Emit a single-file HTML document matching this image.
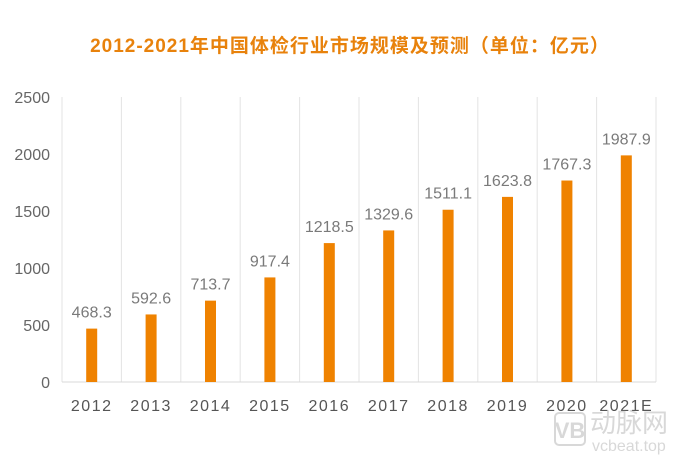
<!DOCTYPE html>
<html><head><meta charset="utf-8"><style>
body{margin:0;background:#fff;width:700px;height:459px;overflow:hidden;font-family:"Liberation Sans","Noto Sans CJK SC",sans-serif}
</style></head><body>
<svg width="700" height="459" xmlns="http://www.w3.org/2000/svg">
<text x="350" y="52" text-anchor="middle" font-size="19" font-weight="bold" fill="#E8820C" font-family="Liberation Sans, Noto Sans CJK SC, sans-serif" letter-spacing="1">2012-2021年中国体检行业市场规模及预测（单位：亿元）</text>
<g id="grid"></g><g id="bars"></g><g id="labels"></g>
<g opacity="0.45">
<rect x="555" y="413" width="30" height="32" rx="4" fill="none" stroke="#aaa" stroke-width="2"/>
<text x="570" y="438" font-size="22" font-weight="bold" fill="#aaa" text-anchor="middle" font-family="Liberation Sans, sans-serif">VB</text>
<text x="590" y="432" font-size="26" fill="#aaa" font-family="Noto Sans CJK SC, sans-serif">动脉网</text>
<text x="592" y="451" font-size="16" fill="#aaa" font-family="Liberation Sans, sans-serif">vcbeat.top</text>
</g>
</svg>
<script>
const categories=["2012","2013","2014","2015","2016","2017","2018","2019","2020","2021E"];
const values=[468.3,592.6,713.7,917.4,1218.5,1329.6,1511.1,1623.8,1767.3,1987.9];
const valueLabels=["468.3","592.6","713.7","917.4","1218.5","1329.6","1511.1","1623.8","1767.3","1987.9"];
const yTicks=[0,500,1000,1500,2000,2500];
const NS="http://www.w3.org/2000/svg";
const x0=62,step=59.4,y0=382,yTop=97,yMax=2500;
const y=v=>y0-(v/yMax)*(y0-yTop);
const xc=i=>x0+step*(i+0.5);
function mk(t,a,p,txt){const e=document.createElementNS(NS,t);for(const k in a)e.setAttribute(k,a[k]);if(txt!==undefined)e.textContent=txt;document.getElementById(p).appendChild(e);return e;}
for(let i=0;i<=categories.length;i++){
 const l=mk('line',{x1:x0+step*i,x2:x0+step*i,y1:yTop,y2:y0,stroke:'#e3e3e3','stroke-width':1},'grid');
 
 
}
const ax=mk('line',{x1:x0,x2:x0+step*categories.length,y1:y0,y2:y0,stroke:'#d9d9d9','stroke-width':1},'grid');


yTicks.forEach(t=>{
 const e=mk('text',{x:50,y:y(t)+6,'text-anchor':'end','font-size':16,fill:'#666'},'labels',String(t));
 
 
});
categories.forEach((c,i)=>{
 const b=mk('rect',{x:xc(i)-5.5,y:y(values[i]),width:11,height:y0-y(values[i]),fill:'#EF8200'},'bars');
 
 
 const v=mk('text',{x:xc(i),y:y(values[i])-11,'text-anchor':'middle','font-size':16,fill:'#7a7a7a'},'labels',valueLabels[i]);
 
 
 const t=mk('text',{x:xc(i),y:411,'text-anchor':'middle','font-size':16,fill:'#555','letter-spacing':'1.5'},'labels',c);
 
 
});
</script>
</body></html>
